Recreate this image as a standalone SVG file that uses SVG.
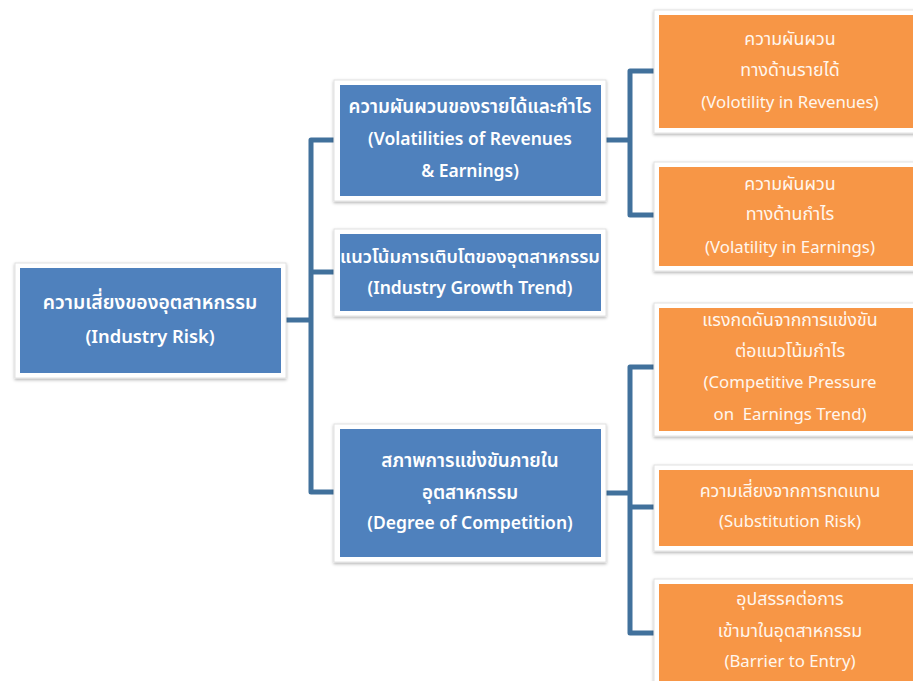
<svg xmlns="http://www.w3.org/2000/svg" width="913" height="681" viewBox="0 0 913 681">
<style>
.frame{fill:#ffffff;stroke:#e2e2e2;stroke-width:1;filter:url(#sh)}
.blue{fill:#4F81BD}
.orange{fill:#F79646}
.conn{fill:none;stroke:#41719C;stroke-width:5;stroke-linejoin:round;stroke-linecap:butt}
text{font-family:"Noto Sans","Noto Sans Thai","Liberation Sans",sans-serif;text-anchor:middle;dominant-baseline:central;fill:#ffffff}
.tb{font-size:17.5px;font-weight:600}
.tbt{font-size:18.8px;font-weight:600}
.tl{font-size:18.3px;font-weight:600}
.tlt{font-size:19.3px;font-weight:600}
.to{font-size:16.8px;font-weight:400;fill:#FFF6EE}
.tot{font-size:17.8px;font-weight:400;fill:#FFF6EE}
</style>
<defs>
<filter id="sh" x="-10%" y="-10%" width="120%" height="130%">
<feDropShadow dx="0" dy="1.5" stdDeviation="1.5" flood-color="#000" flood-opacity="0.3"/>
</filter>
</defs>
<rect width="913" height="681" fill="#ffffff"/>
<g id="connectors">
<path class="conn" d="M286,320 H311"/>
<path class="conn" d="M334,140 H311 V492 H334"/>
<path class="conn" d="M311,272 H334"/>
<path class="conn" d="M606,140 H630"/>
<path class="conn" d="M654,71 H630 V215 H654"/>
<path class="conn" d="M606,493 H630"/>
<path class="conn" d="M654,367 H630 V633 H654"/>
<path class="conn" d="M630,507 H654"/>
</g>
<g id="industry-risk">
<rect class="frame" x="15" y="263" width="271" height="115"/>
<rect class="blue" x="20" y="268" width="261" height="105"/>
<text class="tlt" x="150" y="301">ความเสี่ยงของอุตสาหกรรม</text>
<text class="tl" x="150" y="335">(Industry Risk)</text>
</g>
<g id="volatilities">
<rect class="frame" x="334" y="80" width="272" height="121"/>
<rect class="blue" x="340" y="85" width="261" height="111"/>
<text class="tbt" x="470" y="106">ความผันผวนของรายได้และกำไร</text>
<text class="tb" x="470" y="138">(Volatilities of Revenues</text>
<text class="tb" x="470" y="170">&amp; Earnings)</text>
</g>
<g id="growth-trend">
<rect class="frame" x="334" y="229" width="272" height="87"/>
<rect class="blue" x="340" y="234" width="261" height="77"/>
<text class="tbt" x="470" y="256" style="font-size:18.2px">แนวโน้มการเติบโตของอุตสาหกรรม</text>
<text class="tb" x="470" y="287">(Industry Growth Trend)</text>
</g>
<g id="competition">
<rect class="frame" x="334" y="424" width="272" height="138"/>
<rect class="blue" x="340" y="429" width="261" height="128"/>
<text class="tbt" x="470" y="460">สภาพการแข่งขันภายใน</text>
<text class="tbt" x="470" y="492">อุตสาหกรรม</text>
<text class="tb" x="470" y="522">(Degree of Competition)</text>
</g>
<g id="vol-revenues">
<rect class="frame" x="654" y="10" width="270" height="123"/>
<rect class="orange" x="659" y="15" width="260" height="113"/>
<text class="tot" x="790" y="38">ความผันผวน</text>
<text class="tot" x="790" y="69">ทางด้านรายได้</text>
<text class="to" x="790" y="101">(Volotility in Revenues)</text>
</g>
<g id="vol-earnings">
<rect class="frame" x="654" y="162" width="270" height="109"/>
<rect class="orange" x="659" y="167" width="260" height="99"/>
<text class="tot" x="790" y="183">ความผันผวน</text>
<text class="tot" x="790" y="213">ทางด้านกำไร</text>
<text class="to" x="790" y="246">(Volatility in Earnings)</text>
</g>
<g id="competitive-pressure">
<rect class="frame" x="654" y="303" width="270" height="133"/>
<rect class="orange" x="659" y="308" width="260" height="123"/>
<text class="tot" x="790" y="319">แรงกดดันจากการแข่งขัน</text>
<text class="tot" x="790" y="350">ต่อแนวโน้มกำไร</text>
<text class="to" x="790" y="381">(Competitive Pressure</text>
<text class="to" x="790" y="413" xml:space="preserve">on  Earnings Trend)</text>
</g>
<g id="substitution">
<rect class="frame" x="654" y="465" width="270" height="86"/>
<rect class="orange" x="659" y="470" width="260" height="76"/>
<text class="tot" x="790" y="490">ความเสี่ยงจากการทดแทน</text>
<text class="to" x="790" y="520">(Substitution Risk)</text>
</g>
<g id="barrier">
<rect class="frame" x="654" y="579" width="270" height="120"/>
<rect class="orange" x="659" y="584" width="260" height="110"/>
<text class="tot" x="790" y="598">อุปสรรคต่อการ</text>
<text class="tot" x="790" y="630">เข้ามาในอุตสาหกรรม</text>
<text class="to" x="790" y="660">(Barrier to Entry)</text>
</g>
</svg>
